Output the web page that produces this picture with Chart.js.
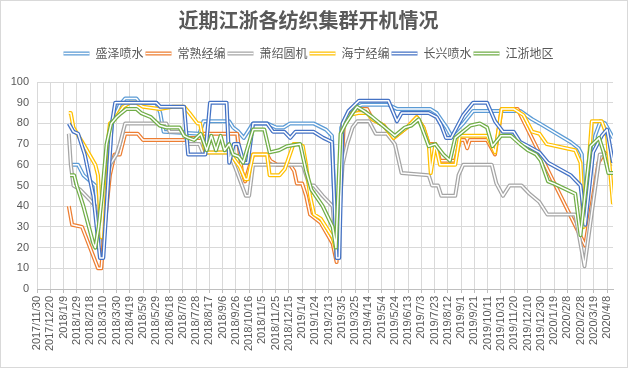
<!DOCTYPE html>
<html><head><meta charset="utf-8">
<script src="https://cdn.jsdelivr.net/npm/chart.js@4/dist/chart.umd.min.js"></script>
<style>html,body{margin:0;padding:0;background:#fff}canvas{display:block}</style>
</head><body>
<canvas id="c" width="628" height="368"></canvas>
<script>
const chartTitle = '近期江浙各纺织集群开机情况';
const seriesNames = ['盛泽喷水','常熟经编','萧绍圆机','海宁经编','长兴喷水','江浙地区'];
const seriesColors = ['#5B9BD5','#ED7D31','#A5A5A5','#FFC000','#4472C4','#70AD47'];
const axisStart = '2017-11-30';
const axisEnd = '2020-04-17';
const tickStepDays = 20;
const yMin = 0, yMax = 100, yStep = 10;

const shengzeDates = ['2018-01-19','2018-01-31','2018-02-08','2018-02-26','2018-03-07','2018-03-13','2018-03-23','2018-04-04','2018-04-12','2018-04-29','2018-05-04','2018-05-29','2018-06-04','2018-06-09','2018-08-02','2018-08-08','2018-09-16','2018-09-22','2018-09-30','2018-10-08','2018-10-22','2018-11-12','2018-11-26','2018-12-07','2018-12-17','2019-01-21','2019-02-09','2019-02-18','2019-02-25','2019-03-04','2019-03-11','2019-03-21','2019-04-04','2019-05-14','2019-05-27','2019-07-16','2019-07-26','2019-08-10','2019-08-17','2019-09-04','2019-09-19','2019-11-29','2019-12-17','2019-12-28','2020-02-13','2020-02-25','2020-03-01','2020-03-05','2020-03-21','2020-03-29','2020-04-05','2020-04-17'];
const shengzeValues = [60,60,55,50,15,40,80,89,92,92,90,90,85,76,75,81,81,78,76,73,80,80,78,78,80,80,77,74,15,78,83,87,89,89,87,87,85,78,74,80,86,86,82,80,71,68,65,33,74,81,80,73];

const changshuDates = ['2018-01-17','2018-01-22','2018-02-06','2018-03-02','2018-03-07','2018-03-12','2018-03-20','2018-03-27','2018-04-04','2018-04-12','2018-05-01','2018-05-09','2018-07-10','2018-07-18','2018-08-02','2018-08-08','2018-09-28','2018-10-05','2018-10-10','2018-10-22','2018-11-12','2018-11-17','2018-11-27','2018-12-17','2018-12-23','2018-12-27','2019-01-04','2019-01-10','2019-01-16','2019-02-01','2019-02-19','2019-02-25','2019-03-08','2019-03-15','2019-03-31','2019-04-12','2019-04-20','2019-05-07','2019-05-22','2019-06-11','2019-06-26','2019-07-06','2019-07-14','2019-07-24','2019-07-31','2019-08-23','2019-08-30','2019-09-06','2019-09-10','2019-09-14','2019-10-10','2019-10-22','2019-11-01','2019-11-25','2020-03-06','2020-03-26','2020-04-04','2020-04-17'];
const changshuValues = [40,31,30,10,10,30,55,65,65,75,75,72,72,73,73,75,75,57,52,65,65,62,60,60,57,51,51,45,36,32,22,13,80,84,87,87,82,79,73,78,83,78,70,70,62,62,72,72,68,72,72,65,87,87,21,61,66,62];

const xiaoshaoDates = ['2018-01-17','2018-01-20','2018-01-24','2018-02-03','2018-02-18','2018-02-26','2018-03-04','2018-03-10','2018-03-20','2018-03-30','2018-04-04','2018-04-12','2018-06-13','2018-06-18','2018-07-10','2018-07-16','2018-08-02','2018-08-07','2018-09-16','2018-09-26','2018-10-11','2018-10-16','2018-10-22','2019-01-05','2019-01-15','2019-01-22','2019-02-04','2019-02-19','2019-02-25','2019-03-06','2019-03-13','2019-03-21','2019-03-28','2019-04-15','2019-04-25','2019-05-12','2019-05-24','2019-06-03','2019-07-14','2019-07-19','2019-07-28','2019-08-02','2019-08-23','2019-08-28','2019-09-04','2019-10-17','2019-10-24','2019-11-03','2019-11-13','2019-12-01','2019-12-13','2019-12-28','2020-01-09','2020-02-20','2020-03-05','2020-03-28','2020-04-05','2020-04-17'];
const xiaoshaoValues = [75,60,50,48,43,40,25,40,60,65,70,80,80,76,76,70,70,66,66,58,45,45,60,60,50,50,45,40,15,60,70,78,81,81,75,75,70,56,55,50,50,45,45,55,60,60,51,45,50,50,46,42,36,36,11,65,65,60];

const hainingDates = ['2018-01-17','2018-01-20','2018-01-24','2018-02-08','2018-02-26','2018-03-02','2018-03-07','2018-03-13','2018-03-20','2018-03-27','2018-04-09','2018-04-19','2018-04-29','2018-05-09','2018-06-03','2018-06-23','2018-07-10','2018-07-18','2018-07-30','2018-08-03','2018-08-11','2018-09-16','2018-10-02','2018-10-10','2018-10-14','2018-10-22','2018-11-12','2018-11-16','2018-12-01','2018-12-09','2018-12-22','2018-12-29','2019-01-05','2019-01-10','2019-01-16','2019-01-22','2019-02-01','2019-02-19','2019-02-25','2019-03-06','2019-03-15','2019-03-30','2019-04-12','2019-04-20','2019-05-07','2019-05-22','2019-06-11','2019-06-26','2019-07-06','2019-07-14','2019-07-17','2019-07-24','2019-07-31','2019-08-23','2019-08-30','2019-10-10','2019-10-22','2019-11-01','2019-11-19','2019-12-04','2019-12-17','2019-12-28','2020-01-08','2020-02-20','2020-02-28','2020-03-04','2020-03-16','2020-03-31','2020-04-08','2020-04-17'];
const hainingValues = [85,85,78,70,60,55,25,60,80,82,88,90,90,88,87,88,88,85,80,80,66,66,59,53,53,65,65,55,55,58,70,70,69,60,45,36,34,25,18,80,84,85,85,82,79,73,78,83,78,70,56,70,60,60,74,74,66,87,87,84,76,75,70,67,61,30,81,81,74,41];

const changxingDates = ['2018-01-17','2018-01-24','2018-01-31','2018-02-10','2018-02-23','2018-03-05','2018-03-10','2018-03-23','2018-03-28','2018-05-29','2018-06-04','2018-07-10','2018-07-16','2018-08-11','2018-08-18','2018-09-12','2018-09-16','2018-09-23','2018-09-30','2018-10-08','2018-10-14','2018-10-22','2018-11-12','2018-11-21','2018-12-08','2018-12-17','2018-12-25','2019-01-21','2019-02-05','2019-02-18','2019-02-25','2019-03-01','2019-03-06','2019-03-15','2019-03-31','2019-05-14','2019-05-27','2019-06-03','2019-07-14','2019-07-26','2019-08-02','2019-08-09','2019-08-17','2019-09-04','2019-09-19','2019-10-10','2019-10-22','2019-11-03','2019-11-19','2019-11-29','2019-12-11','2019-12-28','2020-01-10','2020-02-13','2020-02-28','2020-03-06','2020-03-18','2020-03-31','2020-04-08','2020-04-17'];
const changxingValues = [80,76,75,65,45,15,15,80,90,90,88,88,65,65,90,90,61,70,70,61,61,80,80,76,76,73,76,76,73,71,15,15,80,86,91,91,81,85,85,83,79,73,73,84,90,90,81,76,76,71,69,66,61,55,50,31,66,74,77,61];

const jiangzheDates = ['2018-01-19','2018-01-25','2018-01-29','2018-02-08','2018-02-23','2018-02-26','2018-03-03','2018-03-08','2018-03-15','2018-03-22','2018-03-30','2018-04-06','2018-04-14','2018-04-29','2018-05-06','2018-05-21','2018-06-03','2018-06-13','2018-07-03','2018-07-10','2018-07-16','2018-07-25','2018-08-04','2018-08-13','2018-08-20','2018-08-27','2018-09-03','2018-09-09','2018-09-16','2018-09-22','2018-09-30','2018-10-07','2018-10-19','2018-10-22','2018-11-08','2018-11-16','2018-11-30','2018-12-12','2019-01-01','2019-01-10','2019-01-18','2019-02-04','2019-02-19','2019-02-24','2019-03-03','2019-03-11','2019-03-21','2019-03-28','2019-04-07','2019-04-20','2019-05-09','2019-05-24','2019-06-08','2019-06-18','2019-06-29','2019-07-14','2019-07-24','2019-08-05','2019-08-15','2019-08-23','2019-09-15','2019-09-29','2019-10-10','2019-10-18','2019-10-31','2019-11-15','2019-11-29','2019-12-11','2019-12-23','2019-12-30','2020-01-10','2020-01-18','2020-02-20','2020-02-28','2020-03-14','2020-03-27','2020-04-03','2020-04-10','2020-04-17'];
const jiangzheValues = [55,55,50,40,22,20,30,45,70,80,83,85,87,87,85,83,79,78,78,74,73,72,75,67,74,67,74,67,70,65,64,61,74,77,77,66,67,69,70,57,48,40,30,20,75,80,85,88,86,83,78,74,78,79,82,69,70,65,62,73,79,80,78,69,74,74,70,67,65,62,52,51,46,26,69,73,66,56,56];

const DAY_MS = 86400000;
function toUTC(s){ const p = s.split('-').map(Number); return Date.UTC(p[0], p[1]-1, p[2]); }
const baseMs = toUTC(axisStart);
function dayIndex(s){ return Math.round((toUTC(s) - baseMs) / DAY_MS); }
function dayLabel(n){ const t = new Date(baseMs + n * DAY_MS); return t.getUTCFullYear() + '/' + (t.getUTCMonth()+1) + '/' + t.getUTCDate(); }

const seriesDates = [shengzeDates, changshuDates, xiaoshaoDates, hainingDates, changxingDates, jiangzheDates];
const seriesValues = [shengzeValues, changshuValues, xiaoshaoValues, hainingValues, changxingValues, jiangzheValues];

const LINE_W = 4, GAP_W = 1.5;
const datasets = seriesNames.map((name, k) => ({
  label: name,
  data: seriesDates[k].map((d, i) => ({x: dayIndex(d), y: seriesValues[k][i]})),
  borderColor: seriesColors[k],
  backgroundColor: seriesColors[k],
  borderWidth: LINE_W,
  pointRadius: 0,
  pointHoverRadius: 0,
  tension: 0,
  fill: false,
  borderJoinStyle: 'round',
  order: seriesNames.length - 1 - k
}));

const doubleLine = {
  id: 'doubleLine',
  afterDatasetDraw(chart, args) {
    const line = args.meta.dataset;
    if (!line) return;
    const ctx = chart.ctx, a = chart.chartArea;
    ctx.save();
    ctx.beginPath();
    ctx.rect(a.left, a.top - 4, a.right - a.left, a.bottom - a.top + 8);
    ctx.clip();
    ctx.beginPath();
    line.path(ctx);
    ctx.lineWidth = GAP_W;
    ctx.lineJoin = 'round';
    ctx.strokeStyle = '#ffffff';
    ctx.stroke();
    ctx.restore();
  }
};
const legendIcons = {
  id: 'legendIcons',
  afterDraw(chart) {
    const lg = chart.legend;
    if (!lg || !lg.legendHitBoxes) return;
    const ctx = chart.ctx;
    lg.legendHitBoxes.forEach((hb, i) => {
      const y = Math.round(hb.top + hb.height / 2) + 0.5;
      ctx.save();
      ctx.beginPath();
      ctx.moveTo(hb.left, y);
      ctx.lineTo(hb.left + 26, y);
      ctx.lineWidth = LINE_W;
      ctx.strokeStyle = seriesColors[i];
      ctx.stroke();
      ctx.lineWidth = GAP_W;
      ctx.strokeStyle = '#ffffff';
      ctx.stroke();
      ctx.restore();
    });
  }
};
const frame = {
  id: 'frame',
  beforeDraw(chart) {
    const ctx = chart.ctx;
    ctx.save(); ctx.fillStyle = '#ffffff'; ctx.fillRect(0, 0, chart.width, chart.height); ctx.restore();
  },
  afterDraw(chart) {
    const ctx = chart.ctx;
    ctx.save(); ctx.strokeStyle = '#d9d9d9'; ctx.lineWidth = 1;
    ctx.strokeRect(0.5, 0.5, chart.width - 1, chart.height - 1); ctx.restore();
  }
};

const tickFont = {family: '"Liberation Sans", Arial, sans-serif', size: 11};
new Chart(document.getElementById('c'), {
  type: 'line',
  data: {datasets},
  plugins: [frame, doubleLine, legendIcons],
  options: {
    responsive: false,
    animation: false,
    devicePixelRatio: 1,
    layout: {padding: {left: 4, right: 15, top: 0, bottom: 0}},
    plugins: {
      tooltip: {enabled: false},
      title: {
        display: true, text: chartTitle, color: '#595959',
        font: {family: '"Noto Sans CJK SC", sans-serif', size: 20, weight: 'bold', lineHeight: 1.2},
        padding: {top: 8, bottom: 0}
      },
      legend: {
        position: 'top',
        labels: {
          boxWidth: 26, boxHeight: 38, padding: 2, color: '#595959',
          font: {family: '"Noto Sans CJK SC", sans-serif', size: 12},
          generateLabels(chart) {
            return chart.data.datasets.map((ds, i) => ({
              text: ds.label, fillStyle: 'rgba(0,0,0,0)', strokeStyle: 'rgba(0,0,0,0)',
              lineWidth: 0, hidden: false, datasetIndex: i, fontColor: '#595959'
            }));
          }
        }
      }
    },
    scales: {
      x: {
        type: 'linear',
        min: dayIndex(axisStart), max: dayIndex(axisEnd),
        grid: {color: '#d9d9d9', lineWidth: 1, drawTicks: true, tickLength: 4, tickColor: '#bfbfbf'},
        border: {color: '#bfbfbf'},
        ticks: {
          stepSize: tickStepDays, includeBounds: false, autoSkip: false,
          maxRotation: 90, minRotation: 90, padding: 3,
          color: '#595959', font: tickFont,
          callback: v => dayLabel(v)
        },
        afterFit(s) { s.height = 79; }
      },
      y: {
        min: yMin, max: yMax,
        ticks: {stepSize: yStep, color: '#595959', font: tickFont, padding: 8},
        grid: {color: '#d9d9d9', drawTicks: false},
        border: {display: false},
        afterFit(s) { s.width = 33; }
      }
    }
  }
});
</script>
</body></html>
